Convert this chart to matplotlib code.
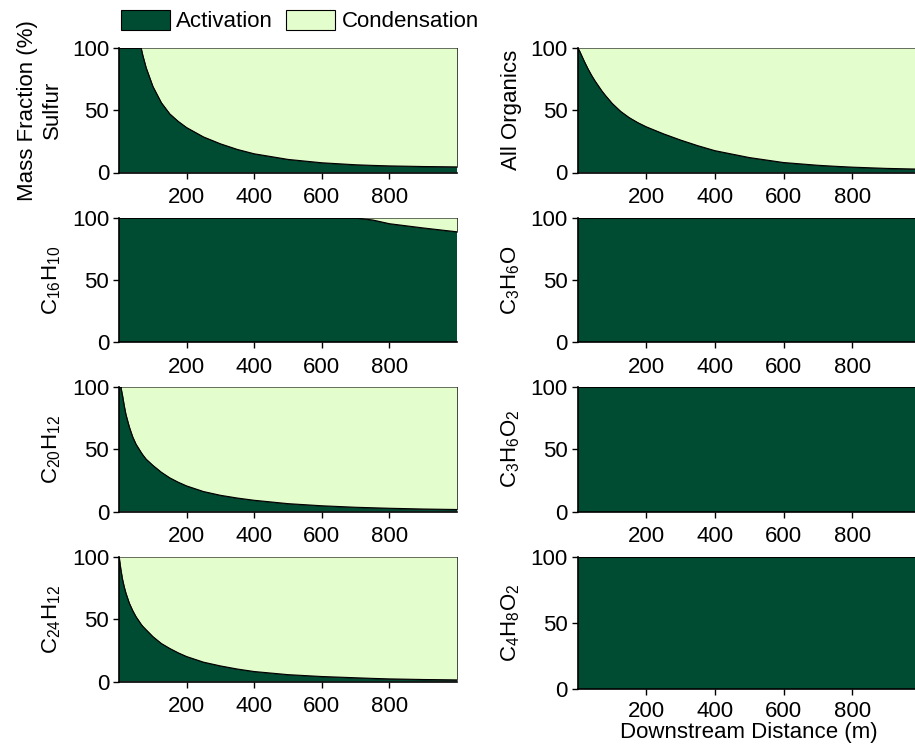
import matplotlib
matplotlib.use("Agg")
import matplotlib.pyplot as plt
from matplotlib.patches import Patch

# ============================================================
# Activation vs. condensation mass fraction along the plume,
# one panel per species (left: sulfur + PAHs, right: organics).
# ============================================================

OUT_PATH = "out.png"

ACT_COLOR = "#004c33"
COND_COLOR = "#e4fdcc"

# downstream distance (m) at which the fractions were read
distance = [0, 5, 10, 15, 20, 30, 40, 50, 65, 70, 80, 100, 125, 150, 175,
            200, 250, 300, 350, 400, 500, 600, 700, 750, 800, 900, 1000]

# activation mass fraction (%); condensation is the rest up to 100
sulfur = [100, 100, 100, 100, 100, 100, 100, 100, 100, 94, 84, 69, 56, 47,
          41, 36, 28.5, 23, 18.5, 15, 10.5, 7.8, 6.2, 5.7, 5.3, 4.8, 4.5]
all_organics = [100, 97.5, 94.5, 91.5, 88.5, 83, 78, 73.5, 67.5, 65.5, 62,
                55.5, 49, 44, 40, 36.6, 31, 26, 21.5, 17.5, 12, 8, 5.8, 5,
                4.3, 3.3, 2.7]
c16h10 = [100, 100, 100, 100, 100, 100, 100, 100, 100, 100, 100, 100, 100,
          100, 100, 100, 100, 100, 100, 100, 100, 100, 99.8, 98.2, 95.2,
          91.8, 88.7]
c20h12 = [100, 100, 93, 85, 78, 68, 60, 54, 47.5, 45.5, 42, 37, 31.5, 27,
          23.5, 20.5, 16, 13, 10.8, 9, 6.3, 4.6, 3.4, 3, 2.6, 2, 1.6]
c24h12 = [100, 90, 82, 76, 71, 63, 57, 52, 46, 44.3, 41.5, 36, 30.5, 26.5,
          23, 20, 15.5, 12.5, 10, 8, 5.5, 4, 3, 2.5, 2.1, 1.6, 1.3]
c3h6o = [100] * len(distance)
c3h6o2 = [100] * len(distance)
c4h8o2 = [100] * len(distance)

left_series = [sulfur, c16h10, c20h12, c24h12]
left_labels = ["Mass Fraction (%)\nSulfur", "C$_{16}$H$_{10}$",
               "C$_{20}$H$_{12}$", "C$_{24}$H$_{12}$"]
right_series = [all_organics, c3h6o, c3h6o2, c4h8o2]
right_labels = ["All Organics", "C$_{3}$H$_{6}$O",
                "C$_{3}$H$_{6}$O$_{2}$", "C$_{4}$H$_{8}$O$_{2}$"]

W, H = 915, 746
ROW_TOPS = [47.7, 217.7, 386.7, 556.7]   # pixels from the top
ROW_H = 124.8
LAST_RIGHT_H = 132.3                     # bottom-right panel is a bit taller
COL_LEFT = [119.0, 577.7]
COL_W = [338.0, 343.0]


def draw_panel(ax, values, ylabel, label_x):
    cond_top = [100] * len(values)
    ax.fill_between(distance, 0, values, facecolor=ACT_COLOR,
                    edgecolor="none", linewidth=0)
    ax.fill_between(distance, values, cond_top, facecolor=COND_COLOR,
                    edgecolor="black", linewidth=0.5)
    ax.plot(distance, values, color="black", linewidth=0.8)

    ax.set_xlim(0, 1000)
    ax.set_ylim(0, 100)
    ax.set_xticks([200, 400, 600, 800])
    ax.set_yticks([0, 50, 100])
    ax.tick_params(direction="out", length=4, width=1, labelsize=16, pad=3)
    ax.tick_params(axis="x", pad=6.5)
    ax.spines["top"].set_visible(False)
    ax.spines["right"].set_visible(False)
    for side in ("left", "bottom"):
        ax.spines[side].set_linewidth(1.2)
        ax.spines[side].set_zorder(5)

    ax.set_ylabel(ylabel, fontsize=16, linespacing=1.25)
    ax.yaxis.set_label_coords(label_x, 0.5)


def main():
    plt.rcParams["font.family"] = ["Liberation Sans", "DejaVu Sans"]
    plt.rcParams["mathtext.default"] = "regular"

    fig = plt.figure(figsize=(W / 100, H / 100), dpi=100)

    axes = []
    for col, (series, labels) in enumerate([(left_series, left_labels),
                                            (right_series, right_labels)]):
        for row in range(4):
            h = LAST_RIGHT_H if (col == 1 and row == 3) else ROW_H
            rect = [COL_LEFT[col] / W, 1 - (ROW_TOPS[row] + h) / H,
                    COL_W[col] / W, h / H]
            ax = fig.add_axes(rect)
            label_x = -0.165 if col == 0 else -0.162
            draw_panel(ax, series[row], labels[row], label_x)
            axes.append(ax)

    # bottom-right panel carries the shared x label; its tick labels sit a
    # touch higher so the label fits underneath
    axes[-1].tick_params(axis="x", pad=4.5)
    axes[-1].set_xlabel("Downstream Distance (m)", fontsize=16, labelpad=0)

    handles = [Patch(facecolor=ACT_COLOR, edgecolor="black", linewidth=0.8),
               Patch(facecolor=COND_COLOR, edgecolor="black", linewidth=0.8)]
    fig.legend(handles, ["Activation", "Condensation"], loc="center",
               bbox_to_anchor=(300 / W, 1 - 21 / H), ncol=2, frameon=False,
               fontsize=16, handlelength=2.2, handleheight=1.05,
               handletextpad=0.3, columnspacing=0.6, borderpad=0)

    fig.savefig(OUT_PATH, dpi=100)
    plt.close(fig)


if __name__ == "__main__":
    main()
